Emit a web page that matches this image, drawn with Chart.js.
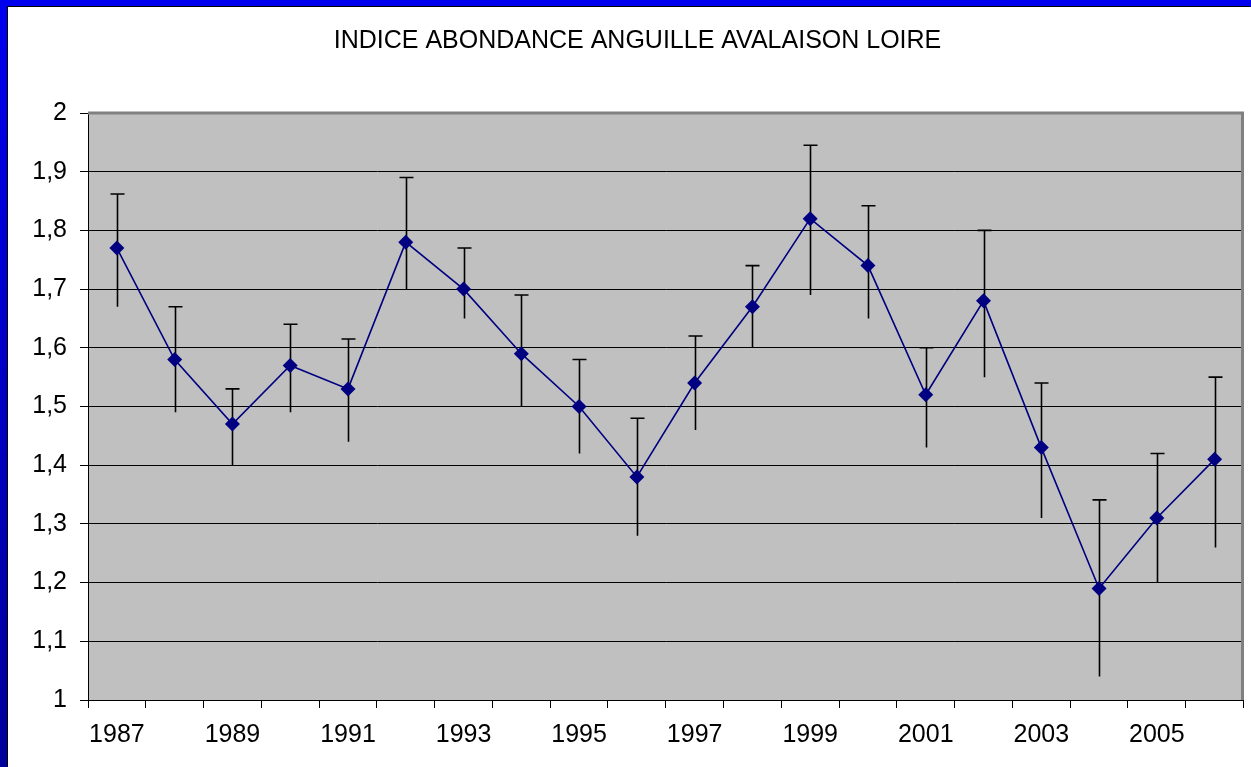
<!DOCTYPE html>
<html>
<head>
<meta charset="utf-8">
<script src="https://cdn.jsdelivr.net/npm/chart.js@4/dist/chart.umd.min.js"></script>
<style>
  html, body { margin: 0; padding: 0; }
  body {
    width: 1251px; height: 767px; overflow: hidden;
    background: linear-gradient(to bottom, #0000ee, #00009a);
    position: relative;
  }
  #cadre {
    position: absolute; left: 8px; top: 7px;
    width: 1243px; height: 760px;
    background: #fff;
    box-shadow: -1px -1px 0 #000;
  }
</style>
</head>
<body>
<div id="cadre"><canvas id="graph" width="1243" height="760"></canvas></div>
<script>
// Données
const annees  = ['1987','1988','1989','1990','1991','1992','1993','1994','1995','1996',
                 '1997','1998','1999','2000','2001','2002','2003','2004','2005','2006'];
const indice  = [1.77, 1.58, 1.47, 1.57, 1.53, 1.78, 1.70, 1.59, 1.50, 1.38,
                 1.54, 1.67, 1.82, 1.74, 1.52, 1.68, 1.43, 1.19, 1.31, 1.41];
const errHaut = [1.862, 1.67, 1.53, 1.64, 1.615, 1.89, 1.77, 1.69, 1.58, 1.48,
                 1.62, 1.74, 1.945, 1.842, 1.60, 1.80, 1.54, 1.341, 1.42, 1.55];
const errBas  = [1.67, 1.49, 1.40, 1.49, 1.44, 1.70, 1.65, 1.50, 1.42, 1.28,
                 1.46, 1.60, 1.69, 1.65, 1.43, 1.55, 1.31, 1.04, 1.20, 1.26];

const NAVY = '#000080';
const FONT = "Arial, 'Liberation Sans', sans-serif";

// fond gris de la zone de tracé + bord gris haut/droite
const fondZone = {
  id: 'fondZone',
  beforeDraw(chart) {
    const { ctx, chartArea: a } = chart;
    ctx.save();
    ctx.fillStyle = '#c0c0c0';
    ctx.fillRect(a.left, a.top, a.right - a.left, a.bottom - a.top);
    ctx.restore();
  },
  afterDraw(chart) {
    const { ctx, chartArea: a } = chart;
    ctx.save();
    ctx.strokeStyle = '#808080';
    ctx.lineWidth = 3;
    ctx.beginPath();
    ctx.moveTo(a.left, a.top);
    ctx.lineTo(a.right - 1, a.top);
    ctx.lineTo(a.right - 1, a.bottom);
    ctx.stroke();
    ctx.restore();
  }
};

// barres d'erreur (chapeau en haut seulement)
const barresErreur = {
  id: 'barresErreur',
  beforeDatasetsDraw(chart) {
    const { ctx, scales: { x, y } } = chart;
    ctx.save();
    ctx.strokeStyle = '#000';
    ctx.lineWidth = 1.6;
    annees.forEach((an, i) => {
      const px = Math.round(x.getPixelForValue(i)) + 0.5;
      const yh = y.getPixelForValue(errHaut[i]);
      const yb = y.getPixelForValue(errBas[i]);
      ctx.beginPath();
      ctx.moveTo(px, yb);
      ctx.lineTo(px, yh);
      ctx.moveTo(px - 7, yh);
      ctx.lineTo(px + 7, yh);
      ctx.stroke();
    });
    ctx.restore();
  }
};

new Chart(document.getElementById('graph'), {
  type: 'line',
  data: {
    labels: annees,
    datasets: [{
      data: indice,
      borderColor: NAVY,
      backgroundColor: NAVY,
      borderWidth: 1.6,
      pointStyle: 'rectRot',
      pointRadius: 7.5,
      pointBorderWidth: 0,
      tension: 0,
      fill: false,
    }],
  },
  options: {
    responsive: false,
    animation: false,
    layout: { padding: { left: 20, right: 4, top: 0, bottom: 0 } },
    plugins: {
      legend: { display: false },
      tooltip: { enabled: false },
      title: {
        display: true,
        text: 'INDICE ABONDANCE ANGUILLE AVALAISON LOIRE',
        color: '#000',
        font: { family: FONT, size: 25, weight: 'normal' },
        padding: { top: 19, bottom: 57 },
      },
    },
    scales: {
      x: {
        offset: true,
        grid: { offset: true, drawOnChartArea: false, drawTicks: true, tickLength: 8, color: '#000' },
        border: { color: '#000', width: 1 },
        ticks: {
          autoSkip: false,
          maxRotation: 0,
          padding: 12,
          color: '#000',
          font: { family: FONT, size: 25 },
          callback: (v, i) => (i % 2 === 0 ? annees[i] : ''),
        },
        afterFit: s => { s.height = 67; },
      },
      y: {
        min: 1,
        max: 2,
        grid: { color: '#000', lineWidth: 1, tickLength: 8 },
        border: { color: '#000', width: 1 },
        ticks: {
          stepSize: 0.1,
          padding: 13,
          color: '#000',
          font: { family: FONT, size: 25 },
          callback: v => String(Math.round(v * 10) / 10).replace('.', ','),
        },
        afterFit: s => { s.width = 60; },
      },
    },
  },
  plugins: [fondZone, barresErreur],
});
</script>
</body>
</html>
